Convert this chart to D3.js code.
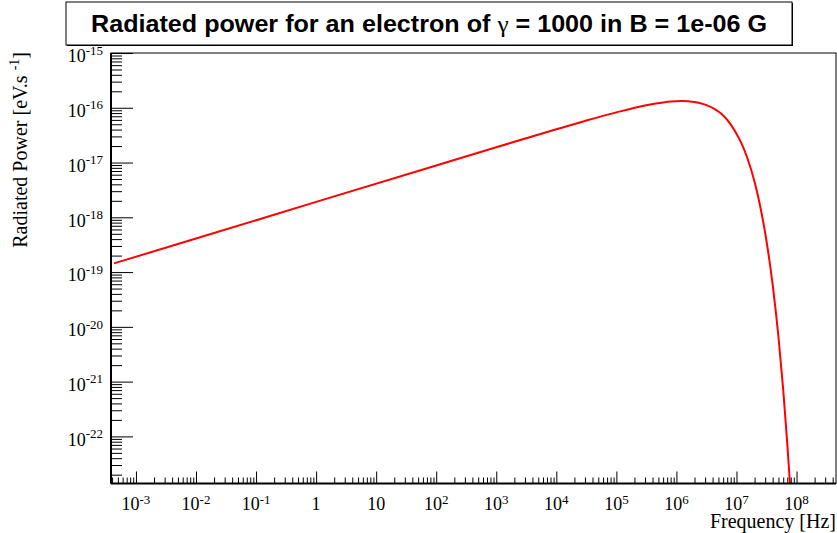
<!DOCTYPE html>
<html>
<head>
<meta charset="utf-8">
<script src="https://cdn.jsdelivr.net/npm/d3@7"></script>
<style>
  body { margin: 0; background: #fff; }
  svg { display: block; }
</style>
</head>
<body>
<div id="chart"></div>
<script>
// 读图得到的数据点 (频率 Hz, 辐射功率 eV/s)
const freq = [4.3e-4, 1e-2, 1, 1e2, 1e3, 1e4, 3e4, 1e5, 3e5, 6e5, 8e5, 1.24e6, 1.6e6, 2e6, 3e6,
  4.34e6, 5e6, 6e6, 8e6, 1e7, 1.2e7, 1.5e7, 2e7, 2.5e7, 3e7, 4e7, 5e7, 6e7, 7e7, 7.5e7, 7.8e7];
const power = [1.44e-19, 4.10e-19, 1.91e-18, 8.85e-18, 1.90e-17, 4.05e-17, 5.74e-17, 8.24e-17, 1.10e-16, 1.25e-16, 1.30e-16, 1.33e-16, 1.31e-16, 1.28e-16, 1.14e-16,
  9.47e-17, 8.53e-17, 7.23e-17, 4.99e-17, 3.35e-17, 2.29e-17, 1.25e-17, 4.44e-18, 1.53e-18, 5.22e-19, 5.89e-20, 6.52e-21, 7.06e-22, 7.55e-23, 2.46e-23, 1.26e-23];

// 坐标轴范围与刻度
const xRange = [3.84e-4, 4.54e8];
const yRange = [1.38e-23, 1.0e-15];
const xMajor = [1e-3, 1e-2, 1e-1, 1, 1e1, 1e2, 1e3, 1e4, 1e5, 1e6, 1e7, 1e8];
const xTickLabels = [["10", "-3"], ["10", "-2"], ["10", "-1"], ["1", ""], ["10", ""], ["10", "2"],
  ["10", "3"], ["10", "4"], ["10", "5"], ["10", "6"], ["10", "7"], ["10", "8"]];
const yMajor = [1e-22, 1e-21, 1e-20, 1e-19, 1e-18, 1e-17, 1e-16, 1e-15];
const yTickLabels = [["10", "-22"], ["10", "-21"], ["10", "-20"], ["10", "-19"], ["10", "-18"],
  ["10", "-17"], ["10", "-16"], ["10", "-15"]];

const data = freq.map((f, i) => ({ f: f, p: power[i] }));

// 画布尺寸和边距
const W = 837, H = 533;
const margin = { top: 53, right: 1, bottom: 49.5, left: 111 };
const width = W - margin.left - margin.right,
  height = H - margin.top - margin.bottom;

const svg = d3.select("#chart").append("svg")
  .attr("width", W)
  .attr("height", H)
  .style("background", "#fff");

const g = svg.append("g")
  .attr("transform", `translate(${margin.left},${margin.top})`);

const x = d3.scaleLog().domain(xRange).range([0, width]);
const y = d3.scaleLog().domain(yRange).range([height, 0]);

// 次刻度 2..9
function minorTicks(range) {
  const out = [];
  const lo = Math.floor(Math.log10(range[0])), hi = Math.ceil(Math.log10(range[1]));
  for (let e = lo; e <= hi; e++) {
    for (let k = 2; k <= 9; k++) {
      const v = k * Math.pow(10, e);
      if (v >= range[0] && v <= range[1]) out.push(v);
    }
  }
  return out;
}

// 框
g.append("rect")
  .attr("width", width)
  .attr("height", height)
  .attr("fill", "none")
  .attr("stroke", "#000")
  .attr("stroke-width", 1);

// 曲线
g.append("clipPath").attr("id", "clip")
  .append("rect").attr("width", width).attr("height", height);

g.append("path")
  .datum(data)
  .attr("clip-path", "url(#clip)")
  .attr("fill", "none")
  .attr("stroke", "#ff0000")
  .attr("stroke-width", 2)
  .attr("d", d3.line()
    .x(d => x(d.f))
    .y(d => y(d.p))
    .curve(d3.curveMonotoneX));

// X轴
const xg = g.append("g").attr("transform", `translate(0,${height})`);
xg.append("g")
  .call(d3.axisBottom(x).tickValues(minorTicks(xRange)).tickSize(-6).tickSizeOuter(0).tickFormat(""))
  .call(a => a.select(".domain").remove());
xg.append("g")
  .call(d3.axisBottom(x).tickValues(xMajor).tickSize(-12).tickSizeOuter(0).tickFormat(""))
  .call(a => a.select(".domain").attr("stroke-width", 2).attr("d", `M0,0H${width}`));

xMajor.forEach((v, i) => {
  const t = xg.append("text")
    .attr("x", x(v))
    .attr("y", 26.5)
    .attr("text-anchor", "middle")
    .style("font-family", "'Liberation Serif', 'Times New Roman', serif")
    .style("font-size", "18px");
  t.append("tspan").text(xTickLabels[i][0]);
  if (xTickLabels[i][1]) {
    t.append("tspan").attr("dy", -6.5).style("font-size", "13px").text(xTickLabels[i][1]);
  }
});

// Y轴
const yg = g.append("g");
yg.append("g")
  .call(d3.axisLeft(y).tickValues(minorTicks(yRange)).tickSize(-11).tickSizeOuter(0).tickFormat(""))
  .call(a => a.select(".domain").remove());
yg.append("g")
  .call(d3.axisLeft(y).tickValues(yMajor).tickSize(-22).tickSizeOuter(0).tickFormat(""))
  .call(a => a.select(".domain").attr("stroke-width", 2).attr("d", `M0,0V${height}`));

yMajor.forEach((v, i) => {
  const t = yg.append("text")
    .attr("x", -8)
    .attr("y", y(v) + 9.4)
    .attr("text-anchor", "end")
    .style("font-family", "'Liberation Serif', 'Times New Roman', serif")
    .style("font-size", "18px");
  t.append("tspan").text(yTickLabels[i][0]);
  t.append("tspan").attr("dy", -7.7).style("font-size", "13px").text(yTickLabels[i][1]);
});

// 轴标题
svg.append("text")
  .attr("x", 836)
  .attr("y", 527.5)
  .attr("text-anchor", "end")
  .style("font-family", "'Liberation Serif', 'Times New Roman', serif")
  .style("font-size", "20px")
  .text("Frequency [Hz]");

const yt = svg.append("text")
  .attr("transform", "translate(27,52) rotate(-90)")
  .attr("text-anchor", "end")
  .style("font-family", "'Liberation Serif', 'Times New Roman', serif")
  .style("font-size", "20px");
yt.append("tspan").text("Radiated Power [eV.s ");
yt.append("tspan").attr("dy", -8).style("font-size", "14px").text("-1");
yt.append("tspan").attr("dy", 8).text("]");

// 标题框
svg.append("rect")
  .attr("x", 67).attr("y", 3).attr("width", 726).attr("height", 43)
  .attr("fill", "#000");
svg.append("rect")
  .attr("x", 66).attr("y", 2).attr("width", 726).attr("height", 43)
  .attr("fill", "#fff")
  .attr("stroke", "#000")
  .attr("stroke-width", 1);

const title = svg.append("text")
  .attr("x", 429)
  .attr("y", 32)
  .attr("text-anchor", "middle")
  .attr("textLength", 676)
  .attr("lengthAdjust", "spacingAndGlyphs")
  .style("font-family", "'Liberation Sans', Arial, sans-serif")
  .style("font-weight", "bold")
  .style("font-size", "23px");
title.append("tspan").text("Radiated power for an electron of ");
title.append("tspan").style("font-family", "'Liberation Serif', serif").style("font-weight", "normal").text("γ");
title.append("tspan").text(" = 1000 in B = 1e-06 G");
</script>
</body>
</html>
